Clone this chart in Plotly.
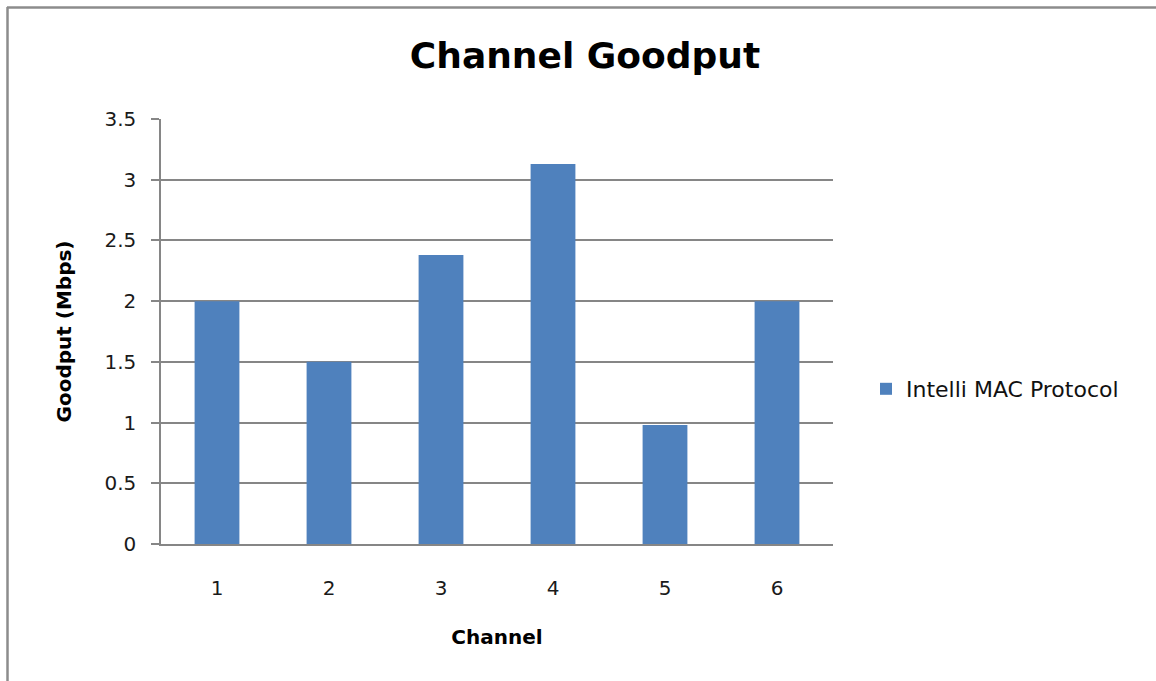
import plotly.graph_objects as go

channels = ["1", "2", "3", "4", "5", "6"]
goodput = [2.0, 1.5, 2.38, 3.13, 0.98, 2.0]
series_name = "Intelli MAC Protocol"
y_ticks = [0, 0.5, 1, 1.5, 2, 2.5, 3, 3.5]
y_tick_text = ["0", "0.5", "1", "1.5", "2", "2.5", "3", "3.5"]

GRID = "#868686"
BAR = "#4F81BD"
FONT = "DejaVu Sans, Liberation Sans, sans-serif"

fig = go.Figure()
fig.add_trace(go.Bar(
    x=channels, y=goodput, name=series_name,
    marker=dict(color=BAR, line=dict(width=0)),
    width=0.4,
))

W, H = 1156, 681
L, R, T, B = 161, 1156 - 833, 119, 681 - 544
pw, ph = W - L - R, H - T - B

def px(xp):
    return (xp - L) / pw

def py(yp):
    return (H - B - yp) / ph

fig.update_layout(
    width=W, height=H,
    margin=dict(l=L, r=R, t=T, b=B, pad=0, autoexpand=False),
    paper_bgcolor="white", plot_bgcolor="white",
    font=dict(family=FONT, color="#1a1a1a", size=20),
    title=dict(text="<b>Channel Goodput</b>", x=px(585), xref="paper", xanchor="center",
               y=1 - 55 / H, yanchor="middle", font=dict(size=36, color="#000000", family=FONT)),
    showlegend=True,
    legend=dict(x=px(866), y=py(389), xanchor="left", yanchor="middle",
                font=dict(size=22, color="#111111"), bgcolor="rgba(0,0,0,0)",
                itemsizing="constant"),
    bargap=0.6,
    shapes=[
        dict(type="line", xref="paper", yref="paper", x0=px(7), x1=px(1160), y0=py(7.5), y1=py(7.5),
             line=dict(color="#8c8c8c", width=2.5)),
        dict(type="line", xref="paper", yref="paper", x0=px(7.5), x1=px(7.5), y0=py(7), y1=py(690),
             line=dict(color="#8c8c8c", width=2.5)),
    ],
)

fig.update_xaxes(
    type="category",
    showgrid=False, showline=True, linecolor=GRID, linewidth=1.5,
    ticks="", tickfont=dict(size=20, color="#1a1a1a"), ticklabelstandoff=25,
    title=dict(text="<b>Channel</b>", font=dict(size=20, color="#000000"), standoff=31),
    zeroline=False,
)
fig.update_yaxes(
    range=[0, 3.5], tickvals=y_ticks, ticktext=y_tick_text,
    showgrid=True, gridcolor=GRID, gridwidth=1.5,
    showline=True, linecolor=GRID, linewidth=1.5,
    ticks="outside", ticklen=8, tickcolor=GRID, tickwidth=1.5,
    tickfont=dict(size=20, color="#1a1a1a"), ticklabelstandoff=11,
    title=dict(text="<b>Goodput (Mbps)</b>", font=dict(size=20, color="#000000"), standoff=27),
    zeroline=False,
)

fig.write_html("out.html")
